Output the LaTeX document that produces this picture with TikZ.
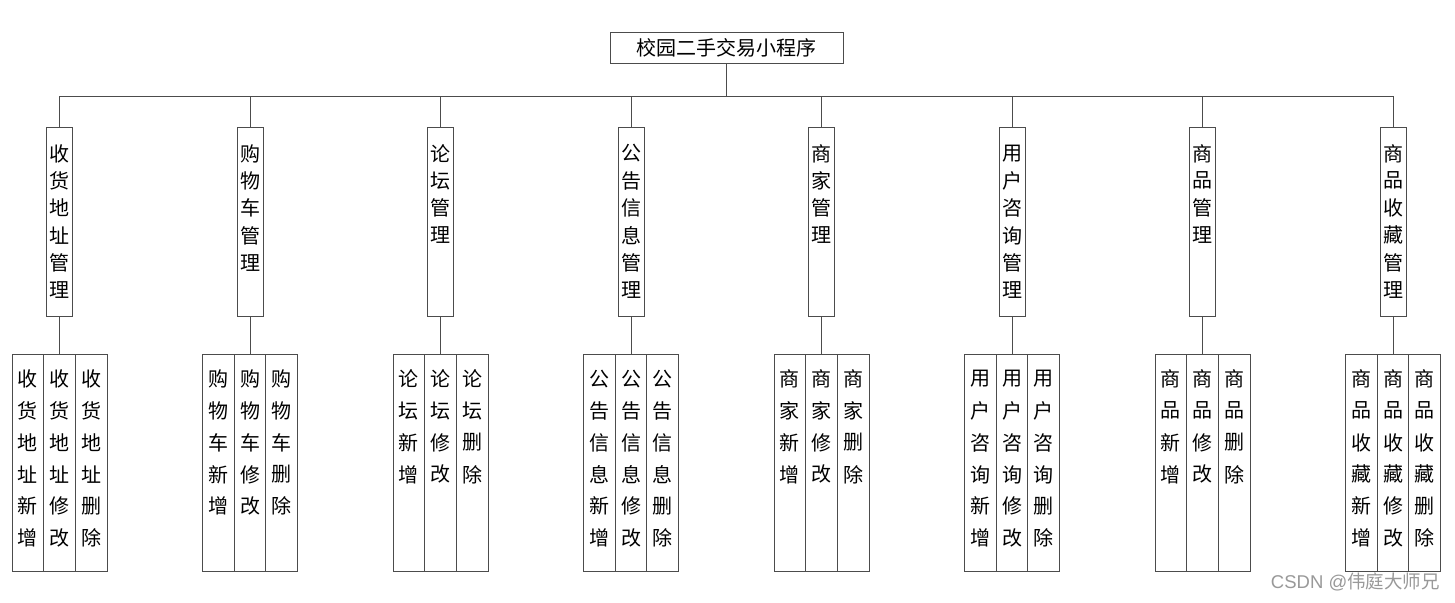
\documentclass[tikz,border=0pt]{standalone}
\usepackage{fontspec}
\setmainfont{Noto Sans CJK SC}
\newfontfamily\latinfont{Liberation Sans}
\usetikzlibrary{calc}
\tikzset{
	topbox/.style={draw=black!70, line width=0.9pt, minimum width=233pt, minimum height=31pt, inner sep=0pt, font=\fontsize{20}{20}\selectfont},
	modbox/.style={draw=black!70, line width=0.9pt, minimum width=26pt, minimum height=189pt, inner sep=0pt, anchor=north},
	subbox/.style={draw=black!70, line width=0.9pt, minimum width=31.7pt, minimum height=217pt, inner sep=0pt, anchor=north},
	chr/.style={inner sep=0pt, font=\fontsize{20}{20}\selectfont},
	link/.style={draw=black!70, line width=0.9pt},
}
% column of characters below the top of a box
\def\vtext(#1)(#2:#3)#4{\foreach \c [count=\k from 0] in {#4} \node[chr] (#1-c\k) at ($(#1.north)+(0,{#2+#3*\k})$) {\c};}
% one module with its three sub boxes
\def\module#1#2#3{
	\node[modbox] (m#1) at (#2,127) {};
	\vtext(m#1)(26.5:27.3){#3,管,理}
	\node[subbox] (m#1a) at ({#2-31.7},354) {};
	\node[subbox] (m#1b) at (#2,354) {};
	\node[subbox] (m#1c) at ({#2+31.7},354) {};
	\vtext(m#1a)(24.7:31.9){#3,新,增}
	\vtext(m#1b)(24.7:31.9){#3,修,改}
	\vtext(m#1c)(24.7:31.9){#3,删,除}
	\draw[link] (bus) -| (m#1.north);
	\draw[link] (m#1.south) -- (m#1b.north);
}

\begin{document}
\begin{tikzpicture}[x=1pt, y=-1pt]
		%%%%% START %%%%%
		\useasboundingbox[fill=white] (0,0) rectangle (1455,602);
		
		\node[topbox] (root) at (726.5,47.5) {校园二手交易小程序};
		\coordinate (bus) at (726.5,96);
		\draw[link] (root.south) -- (bus);
		
		\module{1}{59.5}{收,货,地,址}
		\module{2}{250}{购,物,车}
		\module{3}{440.5}{论,坛}
		\module{4}{631}{公,告,信,息}
		\module{5}{821.5}{商,家}
		\module{6}{1012}{用,户,咨,询}
		\module{7}{1202.5}{商,品}
		\module{8}{1393}{商,品,收,藏}
		
		\node[anchor=east, text=black!40, inner sep=0pt, font=\fontsize{18.5}{18.5}\selectfont] (mark) at (1440,582) {{\latinfont CSDN @}伟庭大师兄};
		
		%%%%% END %%%%%
\end{tikzpicture}
\end{document}
